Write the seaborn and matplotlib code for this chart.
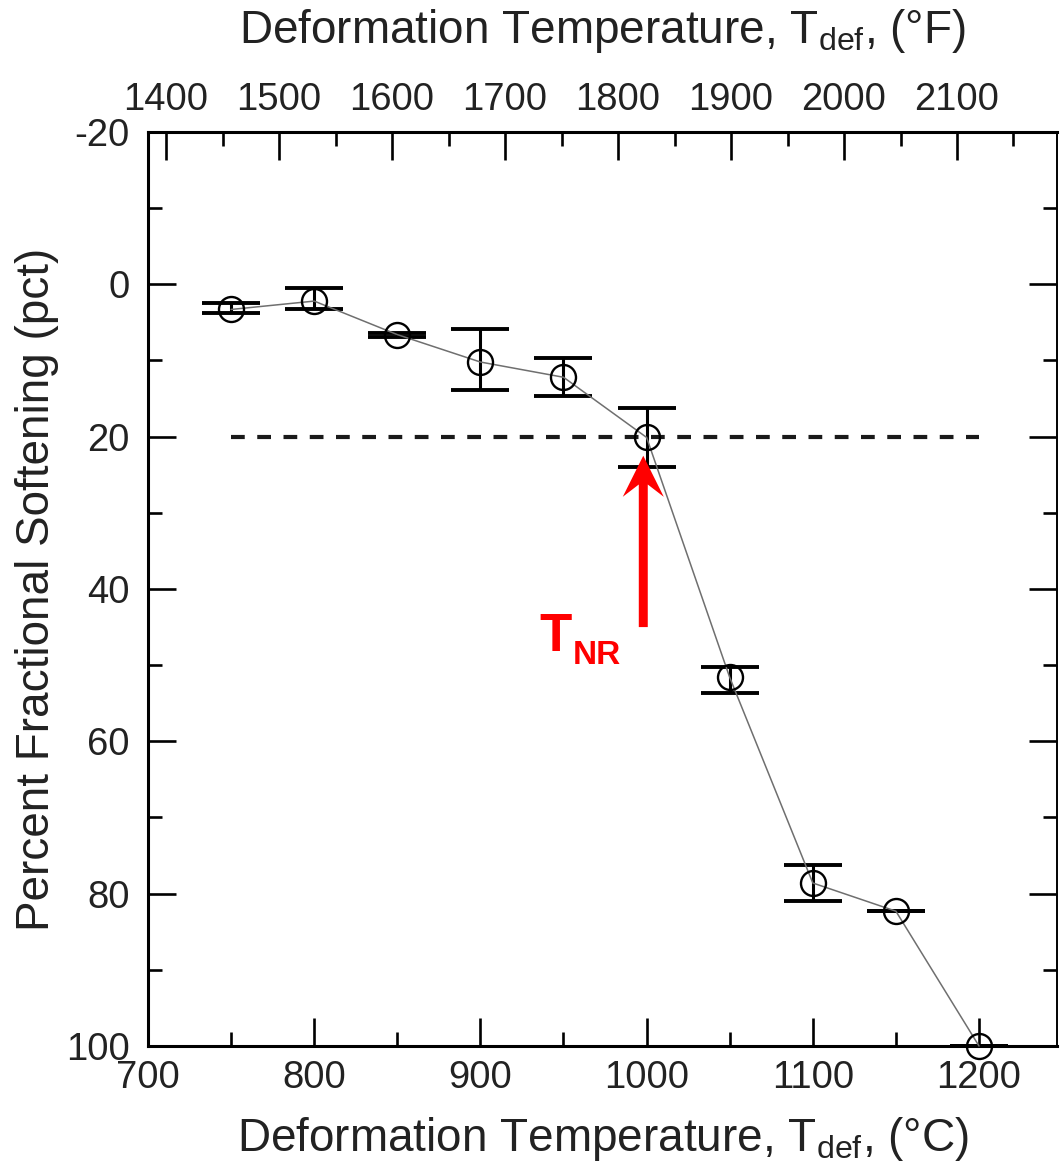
import numpy as np
import pandas as pd
import matplotlib
matplotlib.use("Agg")
import matplotlib.pyplot as plt
from matplotlib.ticker import MultipleLocator
import seaborn as sns

# ---------------- data ----------------
temp_c = [750, 800, 850, 900, 950, 1000, 1050, 1100, 1150, 1200]
softening = [3.3, 2.2, 6.6, 10.2, 12.2, 20.1, 51.6, 78.6, 82.3, 100.0]
cap_low = [2.4, 0.5, 6.4, 5.8, 9.7, 16.2, 50.2, 76.3, 82.28, 99.98]
cap_high = [3.8, 3.3, 6.9, 13.9, 14.6, 24.0, 53.7, 81.0, 82.32, 100.02]

threshold_value = 20
threshold_range = [750, 1200]
tnr_temp = 998
tnr_arrow = [45, 22.5]

c_ticks = [700, 800, 900, 1000, 1100, 1200]
f_ticks = [1400, 1500, 1600, 1700, 1800, 1900, 2000, 2100]
y_ticks = [-20, 0, 20, 40, 60, 80, 100]

df = pd.DataFrame({"T": temp_c, "S": softening})
yerr = np.array([np.array(softening) - np.array(cap_low),
                 np.array(cap_high) - np.array(softening)])

# ---------------- style ----------------
sns.set_theme(style="ticks")
plt.rcParams["font.family"] = ["Liberation Sans", "DejaVu Sans"]
plt.rcParams["mathtext.fontset"] = "custom"
plt.rcParams["mathtext.rm"] = "Liberation Sans"
plt.rcParams["mathtext.it"] = "Liberation Sans"
plt.rcParams["mathtext.bf"] = "Liberation Sans:bold"
plt.rcParams["axes.unicode_minus"] = False

W, H = 1060, 1169
fig = plt.figure(figsize=(W / 100, H / 100), dpi=100)
fig.patch.set_facecolor("white")
L, R, T, B = 148, 1057, 132, 1046
ax = fig.add_axes([L / W, (H - B) / H, (R - L) / W, (B - T) / H])
ax.set_facecolor("white")

# connecting line + open circles
sns.lineplot(data=df, x="T", y="S", ax=ax, color="#6f6f6f", linewidth=1.1,
             marker="o", markersize=18, markerfacecolor="none",
             markeredgecolor="black", markeredgewidth=1.7, clip_on=False,
             zorder=3)
# error bars
ax.errorbar(temp_c, softening, yerr=yerr, fmt="none", ecolor="black",
            elinewidth=2.2, capsize=21, capthick=2.8, zorder=2, clip_on=False)

# threshold dashed line
ax.plot(threshold_range, [threshold_value, threshold_value], color="#1a1a1a",
        linewidth=3.0, linestyle=(0, (3.3, 3.0)), zorder=1)

# T_NR arrow and label
ax.arrow(tnr_temp, tnr_arrow[0], 0, tnr_arrow[1] - tnr_arrow[0], width=5.4,
         head_width=24.7, head_length=5.4, length_includes_head=True,
         overhang=0.3, color="red", linewidth=0, zorder=4)
ax.text(935.3, 48.2, "T", color="red", fontsize=38, fontweight="bold",
        ha="left", va="baseline")
ax.text(955.5, 49.9, "NR", color="red", fontsize=24, fontweight="bold",
        ha="left", va="baseline")

# axes limits / ticks
ax.set_xlim(700, 700 + (R - L) / 1.662)
ax.set_ylim(100, -20)
ax.set_xticks(c_ticks)
ax.xaxis.set_minor_locator(MultipleLocator(50))
ax.set_yticks(y_ticks)
ax.yaxis.set_minor_locator(MultipleLocator(10))
ax.tick_params(axis="both", which="major", direction="in", length=20,
               width=1.9, color="black", labelsize=27.5, labelcolor="#222222")
ax.tick_params(axis="both", which="minor", direction="in", length=10,
               width=1.9, color="black")
ax.tick_params(axis="x", which="both", bottom=True, top=False, pad=10)
ax.tick_params(axis="y", which="both", left=True, right=True, labelright=False,
               pad=13)

for side in ["left", "bottom", "top"]:
    ax.spines[side].set_linewidth(2.2)
    ax.spines[side].set_color("black")
ax.spines["right"].set_linewidth(1.4)
ax.spines["right"].set_color("black")
ax.spines["right"].set_visible(True)
ax.spines["top"].set_visible(True)

ax.set_xlabel(r"Deformation Temperature, T$_{\mathrm{def}}$, (°C)",
              fontsize=33, color="#222222", labelpad=14)
ax.set_ylabel("Percent Fractional Softening (pct)", fontsize=33,
              color="#222222", labelpad=5)

# top Fahrenheit axis
ax2 = ax.twiny()
f_left = 1400 - (166 - L) / 1.13
f_right = 1400 + (R - 166) / 1.13
ax2.set_xlim(f_left, f_right)
ax2.set_xticks(f_ticks)
ax2.xaxis.set_minor_locator(MultipleLocator(50))
ax2.tick_params(axis="x", which="major", direction="in", length=20, width=1.9,
                color="black", labelsize=27.5, labelcolor="#222222", pad=10,
                top=True, bottom=False)
ax2.tick_params(axis="x", which="minor", direction="in", length=10, width=1.9,
                color="black", top=True, bottom=False)
for s in ax2.spines.values():
    s.set_visible(False)
ax2.set_xlabel(r"Deformation Temperature, T$_{\mathrm{def}}$, (°F)",
               fontsize=33, color="#222222", labelpad=28)

fig.savefig("out.png", dpi=100, facecolor="white")
